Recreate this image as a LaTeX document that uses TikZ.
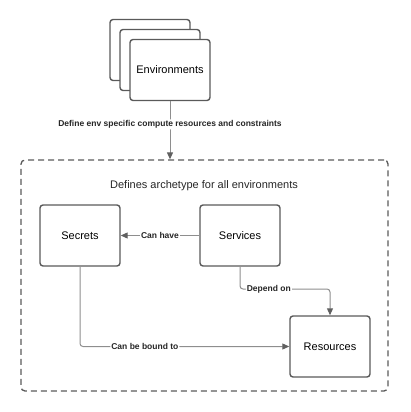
\documentclass[tikz,border=0pt]{standalone}
\usepackage{fontspec}
\setmainfont{Liberation Sans}
\usetikzlibrary{arrows.meta, positioning}
\definecolor{boxgray}{HTML}{5A5A5A}
\definecolor{linegray}{HTML}{8E8E8E}
\definecolor{tipgray}{HTML}{606060}
\tikzset{
    card/.style = {draw=boxgray, line width=1.4pt, rounded corners=3pt, fill=white,
        minimum width=80pt, minimum height=61pt, font=\fontsize{11}{13}\selectfont},
    zone/.style = {draw=boxgray, line width=1.3pt, rounded corners=4pt,
        dash pattern=on 6pt off 4pt, minimum width=367pt, minimum height=231pt},
    link/.style = {draw=linegray, line width=1pt, rounded corners=3pt,
        -{Triangle[length=7pt, width=6pt, color=tipgray, fill=tipgray]}},
    linklabel/.style = {fill=white, inner sep=1pt, text=black!85,
        font=\bfseries\fontsize{8.5}{10}\selectfont}
}

\begin{document}
\begin{tikzpicture}[x=1pt, y=-1pt]
        \useasboundingbox (0, 0) rectangle (410, 412);
        % stack of environments
        \node (envback) [card] at (150, 50) {};
        \node (envmid) [card] at (160, 60) {};
        \node (env) [card] at (170, 70) {Environments};
        % archetype zone
        \node (arch) [zone] at (204.5, 275.5) {};
        \node (archtitle) [font=\fontsize{11}{13}\selectfont, text=black!85] at (204, 186) {Defines archetype for all environments};
        \node (secrets) [card] at (80, 235.5) {Secrets};
        \node (services) [card] at (240, 235.5) {Services};
        \node (resources) [card] at (330, 346.5) {Resources};
        \coordinate (dep) at (240, 289);
        % connectors
        \draw[link] (env.south) -- node[linklabel, pos=0.4] {Define env specific compute resources and constraints} (env.south |- arch.north);
        \draw[link] (services.west) -- node[linklabel] {Can have} (secrets.east);
        \draw[link] (services.south) -- (dep) -| node[linklabel, pos=0.16] {Depend on} (resources.north);
        \draw[link] (secrets.south) |- node[linklabel, pos=0.655] {Can be bound to} (resources.west);
    \end{tikzpicture}
\end{document}
